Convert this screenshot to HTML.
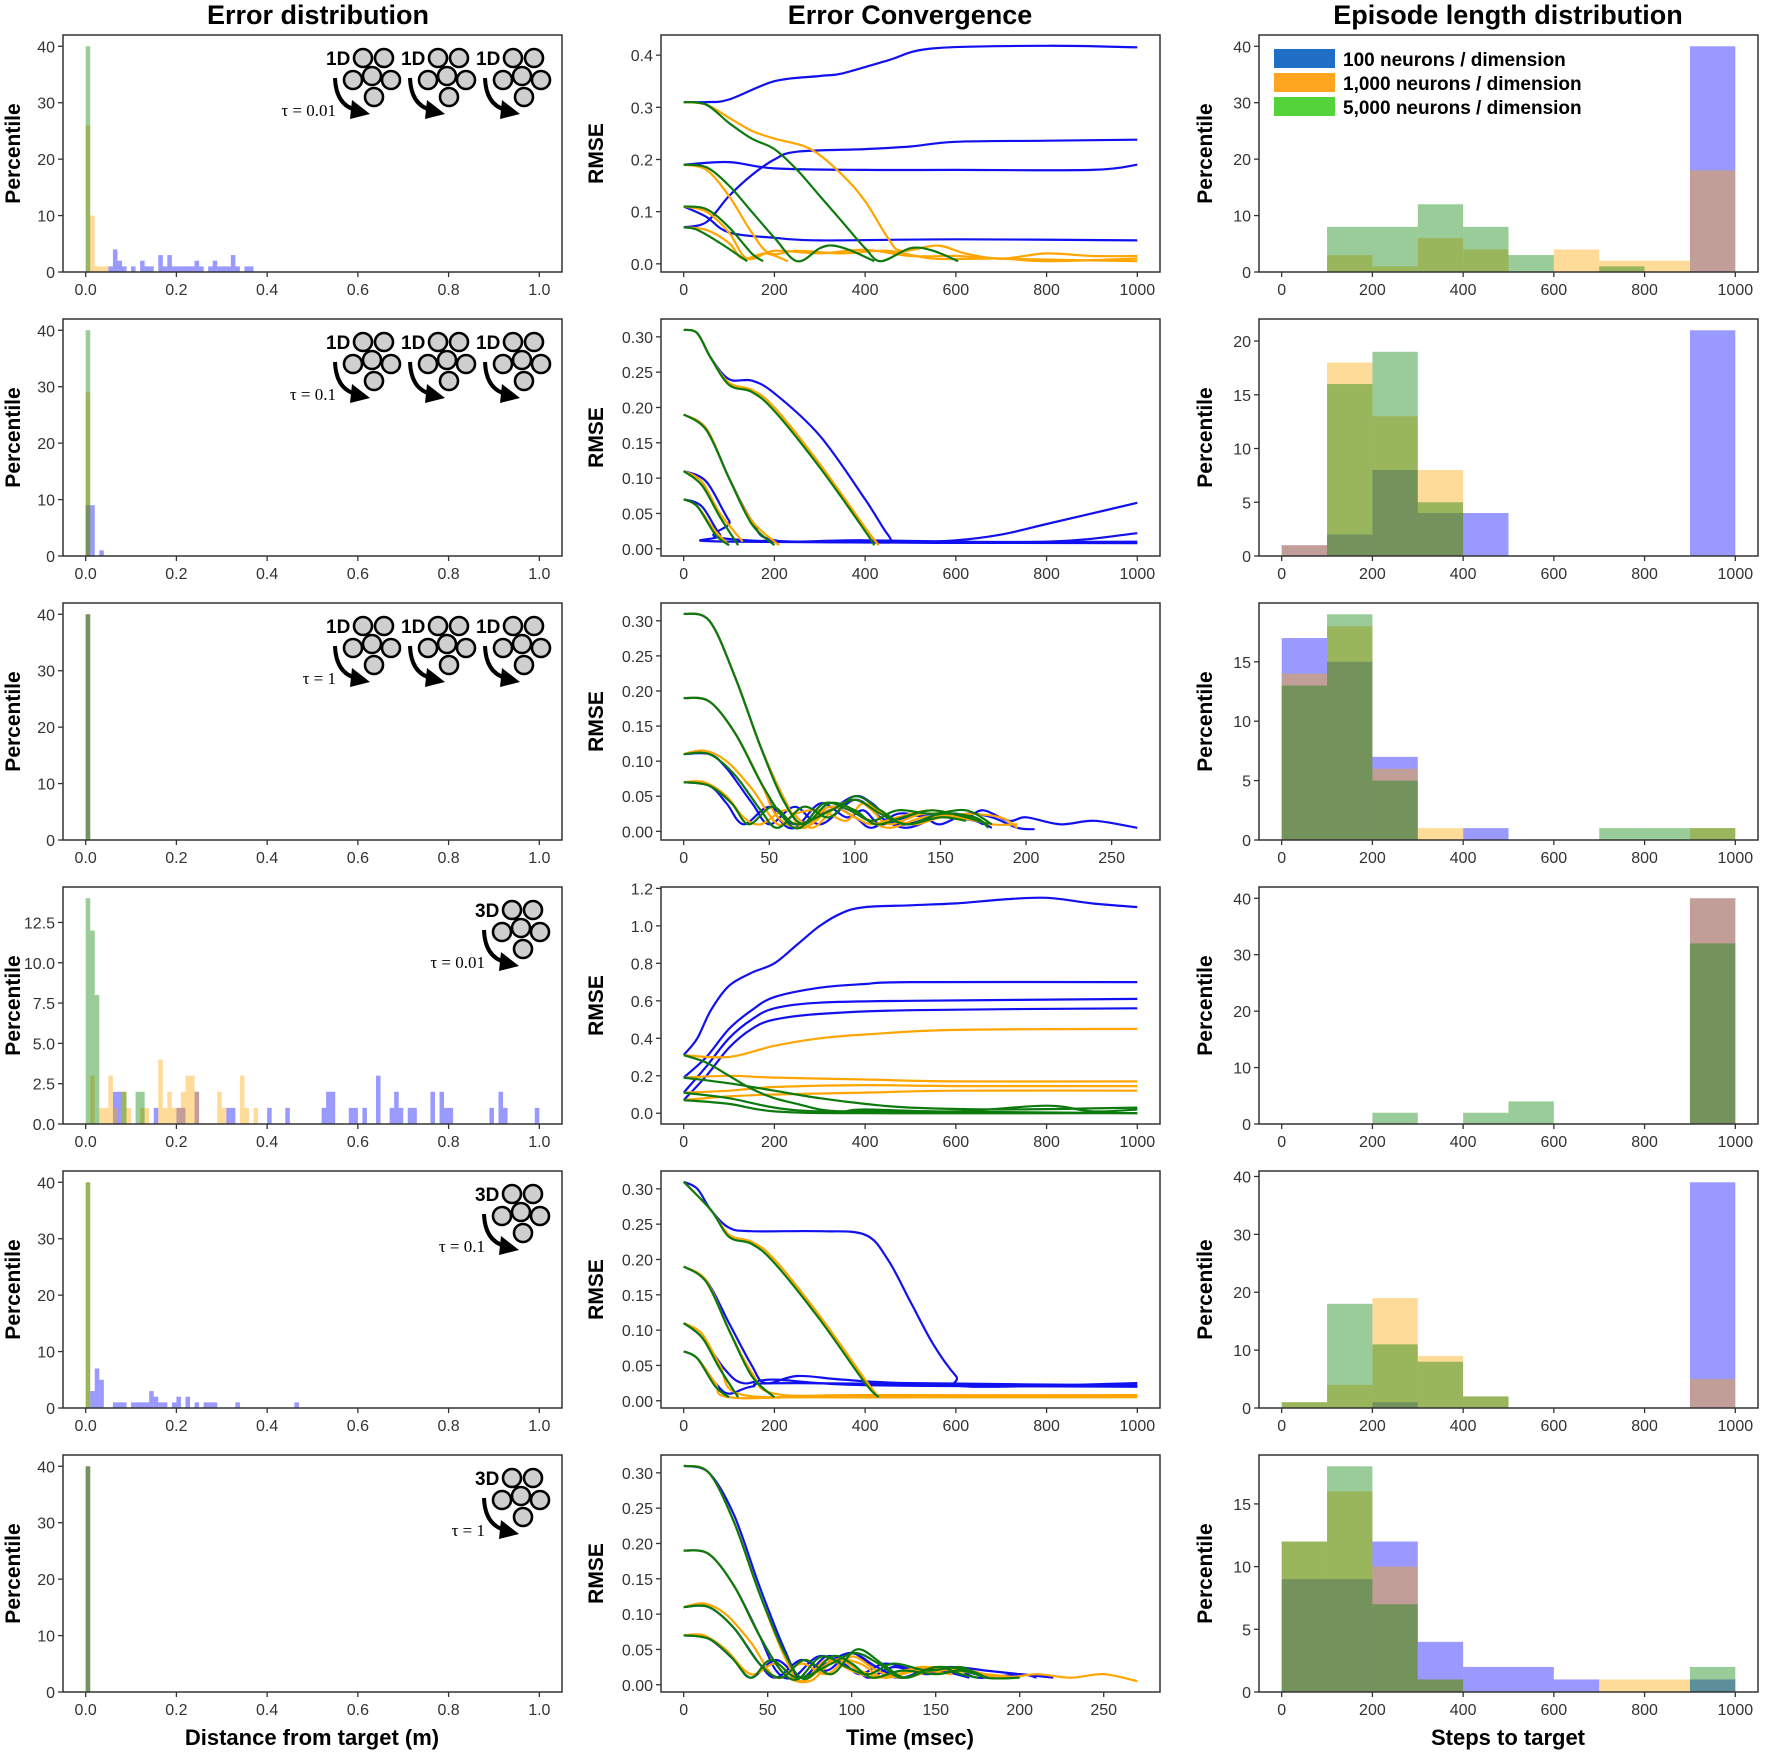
<!DOCTYPE html>
<html><head><meta charset="utf-8"><style>
html,body{margin:0;padding:0;background:#fff;}
svg{display:block;font-family:"Liberation Sans",sans-serif;}
</style></head><body>
<svg id="fig" width="1772" height="1753" viewBox="0 0 1772 1753">
<text x="318" y="24" font-size="27" font-weight="bold" text-anchor="middle">Error distribution</text>
<text x="910" y="24" font-size="27" font-weight="bold" text-anchor="middle">Error Convergence</text>
<text x="1508" y="24" font-size="27" font-weight="bold" text-anchor="middle">Episode length distribution</text>
<text x="312" y="1745" font-size="22" font-weight="bold" text-anchor="middle">Distance from target (m)</text>
<text x="910" y="1745" font-size="22" font-weight="bold" text-anchor="middle">Time (msec)</text>
<text x="1508" y="1745" font-size="22" font-weight="bold" text-anchor="middle">Steps to target</text>
<g>
<rect x="1274" y="49" width="61" height="19" fill="#1f6fc6"/>
<text x="1343" y="66" font-size="19" font-weight="bold">100 neurons / dimension</text>
<rect x="1274" y="73" width="61" height="19" fill="#ffa51f"/>
<text x="1343" y="90" font-size="19" font-weight="bold">1,000 neurons / dimension</text>
<rect x="1274" y="97" width="61" height="19" fill="#55d33a"/>
<text x="1343" y="114" font-size="19" font-weight="bold">5,000 neurons / dimension</text>
</g>
</svg>
<script>
// ===== Error distribution (col 1), sparse [binIndex,count], bins of 0.01 =====
const errR1Blue=[5,1,6,4,7,2,8,1,10,1,12,2,13,1,14,1,16,3,17,1,18,3,19,1,20,1,21,1,22,1,23,1,24,2,25,1,27,1,28,2,29,1,30,1,31,1,32,3,33,1,35,1,36,1];
const errR1Orange=[0,26,1,10,2,1,3,1,4,1];
const errR1Green=[0,40];
const errR2Blue=[0,9,1,9,3,1];
const errR2Orange=[0,29];
const errR2Green=[0,40];
const errR3Blue=[0,40];
const errR3Orange=[0,40];
const errR3Green=[0,40];
const errR4Blue=[6,2,7,2,15,1,20,1,21,1,24,2,31,1,32,1,40,1,44,1,52,1,53,2,54,2,58,1,59,1,61,1,64,3,67,1,68,2,69,1,71,1,72,1,76,2,78,2,79,1,80,1,89,1,91,2,92,1,99,1];
const errR4Orange=[1,3,3,1,4,1,5,3,6,1,8,2,9,1,12,1,13,1,16,4,17,1,18,2,19,1,20,1,21,2,22,3,23,3,24,2,29,2,30,1,34,3,35,1,37,1];
const errR4Green=[0,14,1,12,2,8,8,2,11,2,12,2];
const errR5Blue=[1,3,2,7,3,5,6,1,7,1,8,1,10,1,11,1,12,1,13,1,14,3,15,2,16,1,17,1,19,1,20,2,22,2,24,1,26,1,27,1,28,1,33,1,46,1];
const errR5Orange=[0,40];
const errR5Green=[0,40];
const errR6Blue=[0,40];
const errR6Orange=[0,40];
const errR6Green=[0,40];
const errYMax=[40,40,40,14,40,40];
const errYTicks=[[0,10,20,30,40],[0,10,20,30,40],[0,10,20,30,40],[0,2.5,5,7.5,10,12.5],[0,10,20,30,40],[0,10,20,30,40]];
const errYTickLabels=[["0","10","20","30","40"],["0","10","20","30","40"],["0","10","20","30","40"],["0.0","2.5","5.0","7.5","10.0","12.5"],["0","10","20","30","40"],["0","10","20","30","40"]];
const errXTicks=[0,0.2,0.4,0.6,0.8,1.0];
const errXTickLabels=["0.0","0.2","0.4","0.6","0.8","1.0"];

// ===== Episode length (col 3), counts per 100-step bin (10 bins) =====
const epiR1Blue=[0,0,0,0,0,0,0,0,0,40];
const epiR1Orange=[0,3,1,6,4,0,4,2,2,18];
const epiR1Green=[0,8,8,12,8,3,0,1,0,0];
const epiR2Blue=[1,2,8,4,4,0,0,0,0,21];
const epiR2Orange=[1,18,13,8,0,0,0,0,0,0];
const epiR2Green=[0,16,19,5,0,0,0,0,0,0];
const epiR3Blue=[17,15,7,0,1,0,0,0,0,0];
const epiR3Orange=[14,18,6,1,0,0,0,0,0,1];
const epiR3Green=[13,19,5,0,0,0,0,1,1,1];
const epiR4Blue=[0,0,0,0,0,0,0,0,0,40];
const epiR4Orange=[0,0,0,0,0,0,0,0,0,40];
const epiR4Green=[0,0,2,0,2,4,0,0,0,32];
const epiR5Blue=[0,0,1,0,0,0,0,0,0,39];
const epiR5Orange=[1,4,19,9,2,0,0,0,0,5];
const epiR5Green=[1,18,11,8,2,0,0,0,0,0];
const epiR6Blue=[9,9,12,4,2,2,1,0,0,1];
const epiR6Orange=[12,16,10,1,0,0,0,1,1,0];
const epiR6Green=[12,18,7,1,0,0,0,0,0,2];
const epiYTicks=[[0,10,20,30,40],[0,5,10,15,20],[0,5,10,15],[0,10,20,30,40],[0,10,20,30,40],[0,5,10,15]];
const epiXTicks=[0,200,400,600,800,1000];

// ===== Error convergence (col 2), flattened [t,v,...] =====
const convR1Blue=[[0,.31,50,.31,100,.315,200,.35,300,.36,350,.365,450,.39,550,.413,800,.418,1000,.415],[0,.07,50,.08,100,.13,150,.17,200,.2,250,.215,400,.22,500,.225,600,.234,800,.236,1000,.238],[0,.19,100,.195,200,.183,400,.18,600,.18,900,.18,1000,.19],[0,.11,50,.09,100,.06,200,.05,300,.045,600,.047,1000,.045]];
const convR1Orange=[[0,.31,50,.305,100,.28,150,.255,200,.24,280,.22,350,.17,400,.12,450,.05,480,.025,560,.035,620,.02,700,.01,800,.02,900,.015,1000,.015],[0,.19,50,.18,100,.13,150,.06,190,.02,250,.025,350,.02,450,.025,550,.01,700,.01,800,.005,1000,.01],[0,.11,50,.1,100,.06,140,.01,200,.025,300,.02,400,.027,500,.015,600,.015,700,.01,1000,.005],[0,.07,50,.065,100,.04,130,.01,180,.02,230,.005]];
const convR1Green=[[0,.31,50,.305,100,.27,150,.24,200,.22,250,.18,300,.13,350,.08,400,.03,435,.005,500,.03,550,.025,605,.005],[0,.19,50,.185,100,.15,150,.1,200,.05,250,.005,300,.03,330,.035,370,.025,420,.005],[0,.11,50,.105,100,.07,150,.02,175,.005],[0,.07,30,.065,80,.04,140,.005]];
const convR2Blue=[[0,.31,30,.305,60,.27,100,.24,150,.238,200,.22,300,.16,400,.07,450,.02,475,.01,600,.012,700,.02,800,.035,900,.05,1000,.065],[0,.19,50,.17,100,.1,150,.04,200,.012,400,.012,800,.01,1000,.022],[0,.11,50,.095,100,.04,140,.012,1000,.01],[0,.07,40,.06,80,.02,110,.01,1000,.008]];
const convR2Orange=[[0,.31,30,.305,60,.27,100,.235,150,.225,200,.2,300,.12,400,.03,430,.005],[0,.19,50,.17,100,.1,150,.04,210,.005],[0,.11,40,.095,80,.05,130,.01],[0,.07,30,.06,70,.025,100,.005]];
const convR2Green=[[0,.31,30,.305,60,.27,100,.232,150,.222,200,.195,300,.115,400,.025,420,.005],[0,.19,50,.168,100,.1,150,.035,200,.005],[0,.11,40,.09,80,.045,120,.005],[0,.07,30,.06,70,.02,100,.005]];
const convR3Blue=[[0,.31,15,.3,30,.22,45,.12,60,.04,70,.005,85,.035,100,.02,110,.005,125,.025,140,.02,150,.01,165,.025,180,.02,195,.005,205,.003],[0,.19,15,.185,30,.14,45,.07,55,.02,65,.005,80,.04,95,.02,105,.03,115,.01,130,.02,150,.025,165,.02,175,.03,190,.015,200,.02,220,.01,240,.015,265,.005],[0,.11,15,.11,25,.09,40,.04,50,.01,65,.035,80,.01,100,.045,115,.02,130,.005,150,.02,170,.015,180,.005],[0,.07,15,.065,25,.04,35,.01,50,.035,65,.01,85,.03,100,.05,110,.04,125,.01,145,.02,160,.025,175,.01]];
const convR3Orange=[[0,.31,15,.3,30,.22,45,.12,60,.04,70,.005,85,.035,100,.02,110,.01,125,.02,145,.03,165,.02,180,.01,195,.01],[0,.19,15,.185,30,.14,45,.07,55,.02,70,.005,85,.03,100,.045,110,.03,120,.01,140,.025,160,.02,180,.01],[0,.11,12,.115,25,.1,40,.06,55,.01,65,.025,80,.03,95,.015,105,.04,120,.02,135,.01,150,.02,165,.025,185,.02,195,.005],[0,.07,12,.07,25,.05,35,.02,45,.01,60,.03,75,.005,90,.035,105,.02,120,.005,140,.02,160,.02]];
const convR3Green=[[0,.31,15,.3,30,.22,45,.12,58,.045,70,.01,85,.04,100,.03,112,.01,128,.02,145,.03,165,.02,178,.01],[0,.19,15,.185,30,.14,45,.07,58,.02,68,.005,82,.04,97,.03,110,.015,125,.03,145,.025,165,.03,180,.01],[0,.11,15,.11,30,.08,45,.03,55,.005,70,.035,85,.02,100,.05,115,.03,130,.01,150,.025,170,.02,178,.005],[0,.07,15,.065,28,.04,38,.01,52,.035,66,.01,86,.03,100,.045,115,.025,130,.01,150,.02,165,.015]];
const convR4Blue=[[0,.31,30,.4,60,.55,100,.68,150,.75,200,.8,250,.9,300,1.0,350,1.07,400,1.1,500,1.11,600,1.12,700,1.14,800,1.15,900,1.12,1000,1.1],[0,.19,50,.3,100,.45,150,.55,200,.62,300,.67,400,.69,500,.7,1000,.7],[0,.11,50,.25,100,.4,150,.5,200,.56,300,.59,500,.6,1000,.61],[0,.07,50,.2,100,.35,150,.45,200,.5,300,.53,500,.55,1000,.56]];
const convR4Orange=[[0,.31,100,.3,200,.36,300,.4,400,.42,600,.445,1000,.45],[0,.19,100,.2,200,.19,400,.18,600,.17,1000,.17],[0,.11,100,.12,200,.14,400,.15,600,.145,1000,.145],[0,.07,100,.09,200,.1,400,.11,600,.12,1000,.12]];
const convR4Green=[[0,.31,50,.27,100,.2,150,.13,200,.08,250,.05,300,.02,350,.01,400,.02,600,.01,800,.04,900,.01,1000,.02],[0,.19,100,.16,200,.12,300,.08,400,.05,500,.03,700,.02,1000,.03],[0,.11,100,.08,200,.03,300,.01,500,.01,1000,.0],[0,.07,100,.05,200,.01,400,.0,1000,.0]];
const convR5Blue=[[0,.31,30,.3,60,.27,100,.245,150,.24,300,.24,400,.235,450,.2,500,.14,550,.08,600,.035,630,.02,1000,.025],[0,.19,50,.17,100,.11,150,.05,180,.025,250,.035,350,.03,500,.025,1000,.022],[0,.11,40,.09,90,.045,130,.025,200,.03,400,.022,1000,.02],[0,.07,30,.06,70,.025,100,.01,150,.02,250,.025,1000,.02]];
const convR5Orange=[[0,.31,60,.27,100,.235,150,.225,200,.2,300,.12,400,.03,430,.005],[0,.19,50,.17,100,.1,150,.04,200,.01,400,.008,1000,.008],[0,.11,40,.095,80,.05,120,.01,300,.005,600,.005,1000,.005],[0,.07,30,.06,70,.025,100,.005,300,.005,1000,.005]];
const convR5Green=[[0,.31,60,.27,100,.232,150,.222,200,.195,300,.115,400,.025,430,.005],[0,.19,50,.168,100,.1,150,.035,200,.005],[0,.11,40,.09,80,.045,120,.005],[0,.07,30,.06,70,.02,100,.005]];
const convR6Blue=[[0,.31,15,.3,30,.24,45,.14,60,.05,70,.01,85,.04,100,.03,110,.01,125,.025,145,.015,160,.025,180,.02,200,.015,220,.01],[0,.19,15,.185,30,.14,45,.07,55,.02,65,.01,80,.04,95,.03,105,.015,120,.03,140,.02,160,.025,175,.01,200,.015,210,.01],[0,.11,15,.11,30,.08,45,.03,55,.01,70,.035,85,.02,100,.045,115,.02,130,.01,150,.025,175,.015,190,.01],[0,.07,15,.065,30,.035,40,.01,55,.035,70,.01,85,.03,100,.045,115,.025,130,.01,150,.02,170,.01]];
const convR6Orange=[[0,.31,15,.3,30,.23,45,.13,60,.04,70,.005,85,.035,100,.02,115,.01,130,.02,150,.025,170,.02,190,.01,210,.015,230,.01,250,.015,270,.005],[0,.19,15,.185,30,.14,45,.07,60,.015,75,.005,90,.035,105,.03,120,.01,140,.025,160,.02,180,.015,200,.01],[0,.11,12,.115,25,.1,40,.06,55,.01,70,.03,85,.015,100,.04,115,.02,130,.01,150,.02,170,.02,185,.01],[0,.07,12,.07,25,.05,40,.015,55,.03,70,.005,90,.035,105,.02,120,.01,140,.02,160,.015]];
const convR6Green=[[0,.31,15,.3,30,.23,45,.13,60,.045,72,.008,88,.04,100,.03,112,.01,130,.02,150,.015,165,.02,180,.01],[0,.19,15,.185,30,.14,45,.07,58,.02,68,.008,82,.04,97,.025,110,.015,125,.03,145,.02,165,.025,180,.01,200,.01],[0,.11,15,.11,30,.08,45,.03,58,.01,72,.035,88,.015,103,.05,118,.03,132,.01,150,.025,170,.02,180,.01],[0,.07,15,.065,28,.04,40,.01,52,.035,68,.01,88,.03,102,.045,116,.03,130,.01,150,.025,165,.015,175,.01]];
const convYTicks=[[0,.1,.2,.3,.4],[0,.05,.1,.15,.2,.25,.3],[0,.05,.1,.15,.2,.25,.3],[0,.2,.4,.6,.8,1.0,1.2],[0,.05,.1,.15,.2,.25,.3],[0,.05,.1,.15,.2,.25,.3]];
const convYDecimals=[1,2,2,1,2,2];
const convXTicksLong=[0,200,400,600,800,1000];
const convXTicksShort=[0,50,100,150,200,250];
const tauLabels=["τ = 0.01","τ = 0.1","τ = 1","τ = 0.01","τ = 0.1","τ = 1"];

const NS="http://www.w3.org/2000/svg";
const svg=document.getElementById('fig');
const colLeft=[63,661,1259], PW=499, PH=237;
function mk(tag,attrs,parent,name,inter){
  const el=document.createElementNS(NS,tag);
  for(const k in attrs) el.setAttribute(k,attrs[k]);
  
  
  (parent||svg).appendChild(el);
  return el;
}
function rowBottom(r){return 272+284*r;}
function axes(c,r,xmin,xmax,ymin,ymax,xt,xl,yt,yl,g){
  const L=colLeft[c],B=rowBottom(r),T=B-PH;
  const X=v=>L+(v-xmin)/(xmax-xmin)*PW;
  const Y=v=>B-(v-ymin)/(ymax-ymin)*PH;
  xt.forEach((v,i)=>{
    mk('line',{x1:X(v),x2:X(v),y1:B,y2:B+5,stroke:'#333','stroke-width':1.3},g,'x-tick',false);
    const t=mk('text',{x:X(v),y:B+23,'font-size':16,fill:'#333','text-anchor':'middle'},g,'x-tick-label',false);
    t.textContent=xl[i];
  });
  yt.forEach((v,i)=>{
    mk('line',{x1:L-5,x2:L,y1:Y(v),y2:Y(v),stroke:'#333','stroke-width':1.3},g,'y-tick',false);
    const t=mk('text',{x:L-8,y:Y(v)+6,'font-size':16,fill:'#333','text-anchor':'end'},g,'y-tick-label',false);
    t.textContent=yl[i];
  });
  return {X,Y,L,B,T};
}
function frame(a,g){mk('rect',{x:a.L,y:a.T,width:PW,height:PH,fill:'none',stroke:'#333','stroke-width':1.5},g,'plot-frame',false);}
function ylabel(x,y,txt,g){
  const t=mk('text',{x:x,y:y,'font-size':21,'font-weight':'bold','text-anchor':'middle',transform:'rotate(-90 '+x+' '+y+')'},g,'y-axis-title',false);
  t.textContent=txt;
}
const HC={blue:'rgba(0,0,255,0.4)',orange:'rgba(255,165,0,0.4)',green:'rgba(0,128,0,0.4)'};

function cluster(ox,oy,label,g){
  const lt=mk('text',{x:ox,y:oy+7,'font-size':19,'font-weight':'bold'},g,'dimension-label',false);
  lt.textContent=label;
  [[37,0],[58,0],[27,22],[46,18],[65,22],[48,39]].forEach(p=>{
    mk('circle',{cx:ox+p[0],cy:oy+p[1],r:9,fill:'#cfcfcf',stroke:'#000','stroke-width':2.6},g,'neuron-circle',false);
  });
  mk('path',{d:`M${ox+9} ${oy+20} Q${ox+10} ${oy+47} ${ox+30} ${oy+52}`,fill:'none',stroke:'#000','stroke-width':4},g,'arrow-shaft',false);
  mk('polygon',{points:`${ox+26} ${oy+42} ${ox+44} ${oy+56} ${ox+24} ${oy+61}`,fill:'#000'},g,'arrow-head',false);
}

for(let r=0;r<6;r++){
  // Column 1
  const g1=mk('g',{},svg,'error-distribution-panel-'+(r+1),false);
  const ym=errYMax[r]*1.05;
  const a1=axes(0,r,-0.05,1.05,0,ym,errXTicks,errXTickLabels,errYTicks[r],errYTickLabels[r],g1);
  const es={blue:eval('errR'+(r+1)+'Blue'),orange:eval('errR'+(r+1)+'Orange'),green:eval('errR'+(r+1)+'Green')};
  ['blue','orange','green'].forEach(k=>{
    const d=es[k];
    for(let i=0;i<d.length;i+=2){
      const x0=a1.X(d[i]*0.01),x1=a1.X(d[i]*0.01+0.01);
      mk('rect',{x:x0,y:a1.Y(d[i+1]),width:x1-x0,height:a1.B-a1.Y(d[i+1]),fill:HC[k]},g1,'error-bar-'+k,false);
    }
  });
  frame(a1,g1);
  ylabel(20,a1.B-PH/2,'Percentile',g1);
  if(r<3){
    [326,401,476].forEach(x=>cluster(x,a1.B-214,'1D',g1));
  } else {
    cluster(475,a1.B-214,'3D',g1);
  }
  const tx=(r<3?336:485);
  const tt=mk('text',{x:tx,y:a1.B-156,'font-size':17,'font-family':'"Liberation Serif",serif','text-anchor':'end'},g1,'tau-label',false);
  tt.textContent=tauLabels[r];

  // Column 2
  const g2=mk('g',{},svg,'error-convergence-panel-'+(r+1),false);
  const cs={blue:eval('convR'+(r+1)+'Blue'),orange:eval('convR'+(r+1)+'Orange'),green:eval('convR'+(r+1)+'Green')};
  let tmax=0,vmin=1e9,vmax=-1e9;
  ['blue','orange','green'].forEach(k=>cs[k].forEach(s=>{for(let i=0;i<s.length;i+=2){tmax=Math.max(tmax,s[i]);vmin=Math.min(vmin,s[i+1]);vmax=Math.max(vmax,s[i+1]);}}));
  const tr=tmax, vr=vmax-vmin;
  const short=(r===2||r===5);
  const xt=short?convXTicksShort:convXTicksLong;
  const yt=convYTicks[r];
  const a2=axes(1,r,-0.05*tr,tmax+0.05*tr,vmin-0.05*vr,vmax+0.05*vr,xt,xt.map(String),yt,yt.map(v=>v.toFixed(convYDecimals[r])),g2);
  const LC={blue:'#1010f0',orange:'#ffa500',green:'#0d7a0d'};
  ['blue','orange','green'].forEach(k=>cs[k].forEach((s,si)=>{
    const P=[];for(let i=0;i<s.length;i+=2)P.push([a2.X(s[i]),a2.Y(s[i+1])]);
    let d='M'+P[0][0].toFixed(1)+' '+P[0][1].toFixed(1);
    for(let i=0;i<P.length-1;i++){
      const p0=P[Math.max(0,i-1)],p1=P[i],p2=P[i+1],p3=P[Math.min(P.length-1,i+2)];
      const c1=[p1[0]+(p2[0]-p0[0])/6,p1[1]+(p2[1]-p0[1])/6];
      const c2=[p2[0]-(p3[0]-p1[0])/6,p2[1]-(p3[1]-p1[1])/6];
      d+=' C'+c1[0].toFixed(1)+' '+c1[1].toFixed(1)+' '+c2[0].toFixed(1)+' '+c2[1].toFixed(1)+' '+p2[0].toFixed(1)+' '+p2[1].toFixed(1);
    }
    mk('path',{d:d,fill:'none',stroke:LC[k],'stroke-width':2.2,'stroke-linejoin':'round'},g2,'rmse-line-'+k+'-'+(si+1),false);
  }));
  frame(a2,g2);
  ylabel(603,a2.B-PH/2,'RMSE',g2);

  // Column 3
  const g3=mk('g',{},svg,'episode-length-panel-'+(r+1),false);
  const hs={blue:eval('epiR'+(r+1)+'Blue'),orange:eval('epiR'+(r+1)+'Orange'),green:eval('epiR'+(r+1)+'Green')};
  let hm=0;['blue','orange','green'].forEach(k=>hs[k].forEach(v=>hm=Math.max(hm,v)));
  const a3=axes(2,r,-50,1050,0,hm*1.05,epiXTicks,epiXTicks.map(String),epiYTicks[r],epiYTicks[r].map(String),g3);
  ['blue','orange','green'].forEach(k=>hs[k].forEach((v,i)=>{
    if(v<=0)return;
    const x0=a3.X(i*100),x1=a3.X(i*100+100);
    mk('rect',{x:x0,y:a3.Y(v),width:x1-x0,height:a3.B-a3.Y(v),fill:HC[k]},g3,'episode-bar-'+k,false);
  }));
  frame(a3,g3);
  ylabel(1212,a3.B-PH/2,'Percentile',g3);
}
</script>
</body></html>
